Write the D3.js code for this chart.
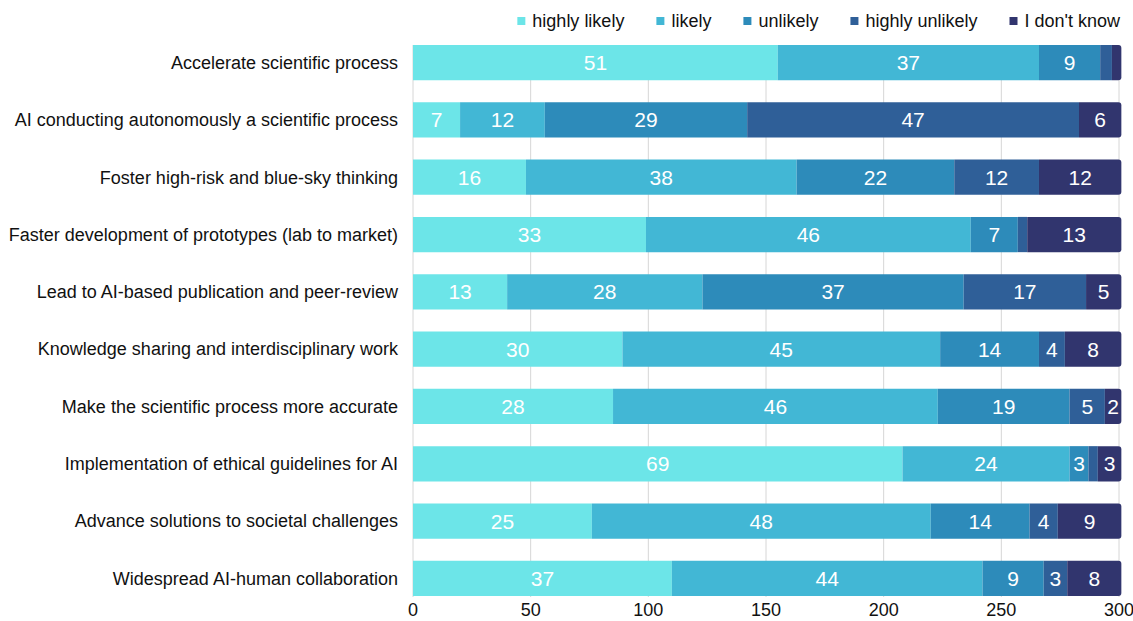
<!DOCTYPE html>
<html>
<head>
<meta charset="utf-8">
<script src="https://cdn.jsdelivr.net/npm/d3@7"></script>
<style>
  body { margin: 0; background: #fff; }
  text { font-family: "Liberation Sans", Arial, Helvetica, sans-serif; }
</style>
</head>
<body>
<div id="chart"></div>
<script>
// categories, top to bottom
var categories = [
  "Accelerate scientific process",
  "AI conducting autonomously a scientific process",
  "Foster high-risk and blue-sky thinking",
  "Faster development of prototypes (lab to market)",
  "Lead to AI-based publication and peer-review",
  "Knowledge sharing and interdisciplinary work",
  "Make the scientific process more accurate",
  "Implementation of ethical guidelines for AI",
  "Advance solutions to societal challenges",
  "Widespread AI-human collaboration"
];

var seriesNames = ["highly likely", "likely", "unlikely", "highly unlikely", "I don't know"];
var seriesColors = ["#6ce5e8", "#42b7d5", "#2d8bba", "#2f5f98", "#31356e"];

// number of answers per category (bar length)
var highlyLikely   = [155, 20, 48, 99, 40, 89, 85, 208, 76, 110];
var likely         = [111, 36, 115, 138, 83, 135, 138, 71, 144, 132];
var unlikely       = [26, 86, 67, 20, 111, 42, 56, 8, 42, 26];
var highlyUnlikely = [5, 141, 36, 4, 52, 11, 15, 4, 12, 10];
var dontKnow       = [4, 18, 35, 40, 15, 24, 7, 10, 27, 23];

var xTicks = [0, 50, 100, 150, 200, 250, 300];

var width = 1133;
var height = 621;

var svg = d3.select("#chart")
  .append("svg")
  .attr("width", width)
  .attr("height", height);

var x = d3.scaleLinear().domain([0, 300]).range([413, 1119]);
var y = d3.scaleBand()
  .domain(categories)
  .range([45, 596])
  .paddingInner(0.385)
  .paddingOuter(0);

// build table for the stack
var rows = categories.map(function (c, i) {
  return {
    category: c,
    "highly likely": highlyLikely[i],
    "likely": likely[i],
    "unlikely": unlikely[i],
    "highly unlikely": highlyUnlikely[i],
    "I don't know": dontKnow[i]
  };
});
var stacked = d3.stack().keys(seriesNames)(rows);

// grid lines
svg.append("g")
  .selectAll("line")
  .data(xTicks)
  .enter()
  .append("line")
  .attr("x1", function (d) { return x(d); })
  .attr("x2", function (d) { return x(d); })
  .attr("y1", 45)
  .attr("y2", 597)
  .attr("stroke", "#d6d6d6")
  .attr("stroke-width", 1);

// x axis tick labels
svg.append("g")
  .selectAll("text")
  .data(xTicks)
  .enter()
  .append("text")
  .attr("x", function (d) { return x(d); })
  .attr("y", 616)
  .attr("text-anchor", "middle")
  .style("font-size", "18px")
  .style("fill", "#111")
  .text(function (d) { return d; });

// rounded right end only for the last segment
function segPath(x0, x1, y0, h, r) {
  r = Math.min(r, (x1 - x0) / 2);
  return "M" + x0 + "," + y0 +
    "H" + (x1 - r) +
    "Q" + x1 + "," + y0 + " " + x1 + "," + (y0 + r) +
    "V" + (y0 + h - r) +
    "Q" + x1 + "," + (y0 + h) + " " + (x1 - r) + "," + (y0 + h) +
    "H" + x0 + "Z";
}

var layers = svg.append("g")
  .selectAll("g")
  .data(stacked)
  .enter()
  .append("g")
  .attr("fill", function (d, i) { return seriesColors[i]; });

layers.selectAll("path")
  .data(function (d) { return d; })
  .enter()
  .append("path")
  .attr("d", function (d) {
    var last = this.parentNode.__data__.index === seriesNames.length - 1;
    var x0 = x(d[0]), x1 = x(d[1]);
    var y0 = y(d.data.category), h = y.bandwidth();
    if (last) return segPath(x0, x1, y0, h, 3);
    return "M" + x0 + "," + y0 + "H" + x1 + "V" + (y0 + h) + "H" + x0 + "Z";
  });

// percentage labels inside the segments (skip slivers that are too thin)
layers.selectAll("text")
  .data(function (d) { return d; })
  .enter()
  .append("text")
  .attr("x", function (d) { return (x(d[0]) + x(d[1])) / 2; })
  .attr("y", function (d) { return y(d.data.category) + y.bandwidth() / 2; })
  .attr("dy", "0.36em")
  .attr("text-anchor", "middle")
  .style("font-size", "21px")
  .style("fill", "#fff")
  .text(function (d) {
    var total = seriesNames.reduce(function (s, k) { return s + d.data[k]; }, 0);
    var pct = Math.round((d[1] - d[0]) / total * 100);
    if (x(d[1]) - x(d[0]) < 14) return "";
    return pct;
  });

// category labels
svg.append("g")
  .selectAll("text")
  .data(categories)
  .enter()
  .append("text")
  .attr("x", 398)
  .attr("y", function (d) { return y(d) + y.bandwidth() / 2; })
  .attr("dy", "0.35em")
  .attr("text-anchor", "end")
  .style("font-size", "18px")
  .style("fill", "#111")
  .text(function (d) { return d; });

// legend, right aligned
var legend = svg.append("g");
var items = legend.selectAll("g")
  .data(seriesNames)
  .enter()
  .append("g");
items.append("rect")
  .attr("width", 8)
  .attr("height", 8)
  .attr("y", 17)
  .attr("fill", function (d, i) { return seriesColors[i]; });
items.append("text")
  .attr("x", 15)
  .attr("y", 27)
  .style("font-size", "18px")
  .style("fill", "#111")
  .text(function (d) { return d; });

var widths = [];
items.each(function () {
  widths.push(15 + d3.select(this).select("text").node().getComputedTextLength());
});
var gap = 32;
var totalW = d3.sum(widths) + gap * (widths.length - 1);
var pos = 1120 - totalW;
items.attr("transform", function (d, i) {
  var t = "translate(" + pos + ",0)";
  pos += widths[i] + gap;
  return t;
});
</script>
</body>
</html>
